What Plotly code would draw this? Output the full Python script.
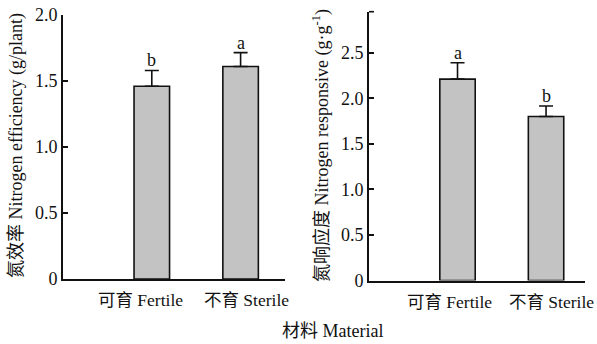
import plotly.graph_objects as go

categories = ["可育 Fertile", "不育 Sterile"]
efficiency = [1.46, 1.61]
efficiency_err = [0.12, 0.105]
efficiency_letters = ["b", "a"]
responsive = [2.21, 1.80]
responsive_err = [0.18, 0.115]
responsive_letters = ["a", "b"]
x_pos = [1, 2]
y1_ticks = [0, 0.5, 1.0, 1.5, 2.0]
y1_ticktext = ["0", "0.5", "1.0", "1.5", "2.0"]
y2_ticks = [0, 0.5, 1.0, 1.5, 2.0, 2.5]
y2_ticktext = ["0", "0.5", "1.0", "1.5", "2.0", "2.5"]

FONT = "Liberation Serif, Times New Roman, Noto Sans CJK SC, serif"
W, H = 597, 344
bar_style = dict(marker=dict(color="#c3c3c3", line=dict(color="#111111", width=1.6)), width=0.4)

fig = go.Figure()
fig.add_trace(go.Bar(x=x_pos, y=efficiency, xaxis="x", yaxis="y",
                     error_y=dict(type="data", array=efficiency_err, arrayminus=[0, 0], symmetric=False,
                                  color="#111111", thickness=1.6, width=7),
                     **bar_style))
fig.add_trace(go.Bar(x=x_pos, y=responsive, xaxis="x2", yaxis="y2",
                     error_y=dict(type="data", array=responsive_err, arrayminus=[0, 0], symmetric=False,
                                  color="#111111", thickness=1.6, width=7),
                     **bar_style))

annotations = []
for xi, v, e, t in zip(x_pos, efficiency, efficiency_err, efficiency_letters):
    annotations.append(dict(x=xi, y=v + e, xref="x", yref="y", text=t, showarrow=False,
                            yanchor="bottom", yshift=-2, font=dict(size=18, family=FONT, color="#111")))
for xi, v, e, t in zip(x_pos, responsive, responsive_err, responsive_letters):
    annotations.append(dict(x=xi, y=v + e, xref="x2", yref="y2", text=t, showarrow=False,
                            yanchor="bottom", yshift=-2, font=dict(size=18, family=FONT, color="#111")))

# category labels under the bars (slightly offset, as in the original layout)
label_shift = {"x": [-11, 6], "x2": [-8, 5]}
for axref in ["x", "x2"]:
    yref = "y" if axref == "x" else "y2"
    for xi, cat, sh in zip(x_pos, categories, label_shift[axref]):
        annotations.append(dict(x=xi, y=0, xref=axref, yref=yref, text=cat, showarrow=False,
                                xanchor="center", yanchor="middle", yshift=-21, xshift=sh,
                                font=dict(size=17.5, family=FONT, color="#111")))

annotations += [
    dict(x=16 / W, y=1 - 146 / H, xref="paper", yref="paper", text="氮效率 Nitrogen efficiency (g/plant)",
         textangle=-90, showarrow=False, xanchor="center", yanchor="middle",
         font=dict(size=18, family=FONT, color="#111")),
    dict(x=321 / W, y=1 - 146 / H, xref="paper", yref="paper", text="氮响应度 Nitrogen responsive (g·g<sup>-1</sup>)",
         textangle=-90, showarrow=False, xanchor="center", yanchor="middle",
         font=dict(size=18, family=FONT, color="#111")),
    dict(x=332 / W, y=1 - 331 / H, xref="paper", yref="paper", text="材料 Material",
         showarrow=False, xanchor="center", yanchor="middle",
         font=dict(size=18, family=FONT, color="#111")),
]

axis_common = dict(showline=True, linecolor="#111111", linewidth=1.6, showgrid=False, zeroline=False,
                   automargin=False, tickfont=dict(size=18, family=FONT, color="#111"))

fig.update_layout(
    width=W, height=H, margin=dict(l=0, r=0, t=0, b=0),
    paper_bgcolor="white", plot_bgcolor="white", showlegend=False,
    font=dict(family=FONT, color="#111"),
    annotations=annotations,
    # small closing tick at the top end of the right y axis
    shapes=[dict(type="line", xref="x2 domain", yref="y2 domain", x0=0, x1=5 / 216, y0=1, y1=1,
                 line=dict(color="#111111", width=1.6))],
    xaxis=dict(domain=[63 / W, 285 / W], range=[0, 2.5], anchor="y",
               showticklabels=False, ticks="", **axis_common),
    yaxis=dict(domain=[1 - 279 / H, 1 - 15 / H], range=[0, 2.0], anchor="x",
               tickvals=y1_ticks, ticktext=y1_ticktext,
               ticks="inside", ticklen=5, tickwidth=1.6, tickcolor="#111111", **axis_common),
    xaxis2=dict(domain=[369 / W, 585 / W], range=[0, 2.44], anchor="y2",
                showticklabels=False, ticks="", **axis_common),
    yaxis2=dict(domain=[1 - 280.5 / H, 1 - 11.7 / H], range=[0, 2.95], anchor="x2",
                tickvals=y2_ticks, ticktext=y2_ticktext,
                ticks="inside", ticklen=5, tickwidth=1.6, tickcolor="#111111", **axis_common),
)

fig.write_html("out.html", config={"displayModeBar": False},
               post_script="document.body.style.margin='0';document.body.style.overflow='hidden';")
